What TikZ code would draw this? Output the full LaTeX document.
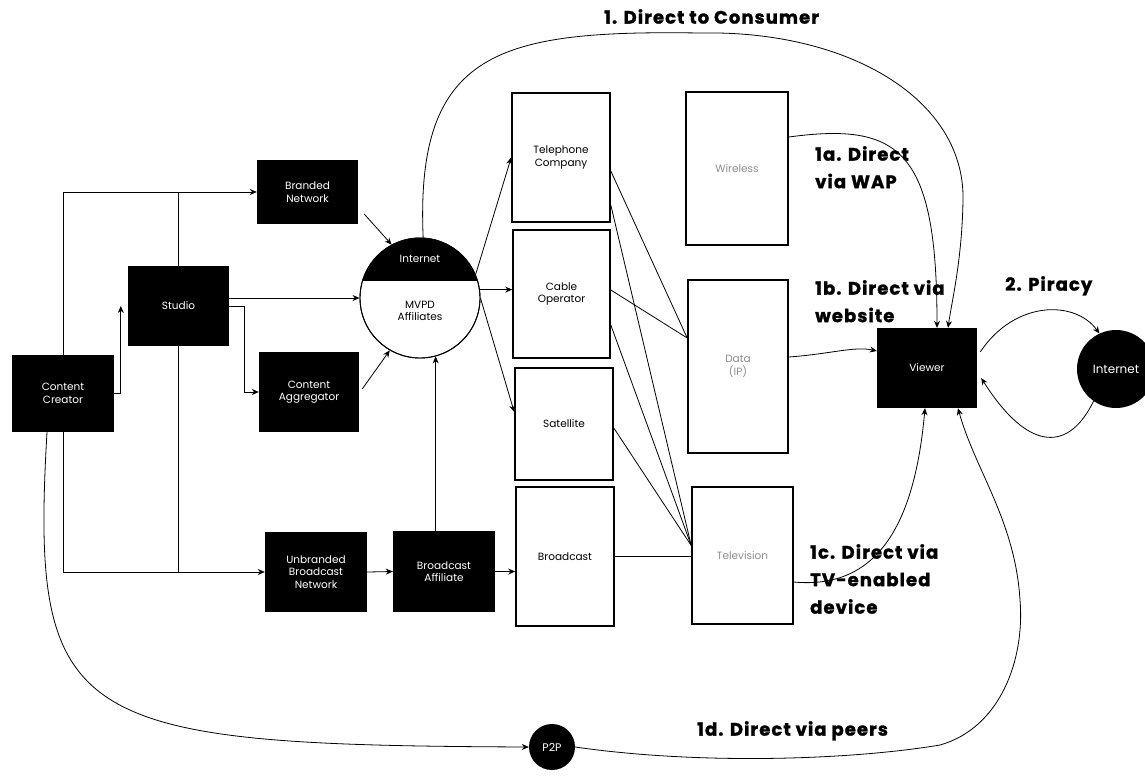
\documentclass[tikz,border=0pt]{standalone}
\usepackage{fontspec}
\setmainfont{Poppins}
\usetikzlibrary{arrows.meta,calc}
\newfontfamily\lblfam{Poppins}[LetterSpace=6,BoldFeatures={FakeBold=1.5}]
\tikzset{
  boxfont/.style={font=\fontsize{10.5}{12.5}\selectfont},
  blk/.style={fill=black, text=white, inner sep=0pt, align=center, boxfont},
  wbox/.style={draw, line width=1.6pt, inner sep=0pt, align=center, boxfont},
  faint/.style={text=black!45},
  conn/.style={line width=0.8pt},
  arr/.style={conn, -{Stealth[length=7pt,width=6pt]}},
  lbl/.style={font=\lblfam\bfseries\fontsize{18}{27.5}\selectfont, align=left, inner sep=0pt, anchor=north west},
}
\begin{document}
\begin{tikzpicture}[x=1pt,y=-1pt]
\useasboundingbox (0,0) rectangle (1145,777);
% black boxes
\node[blk, minimum width=102pt, minimum height=77pt] (cc) at (63,393.5) {Content\\Creator};
\node[blk, minimum width=101pt, minimum height=80pt] (st) at (178.5,306) {Studio};
\node[blk, minimum width=101pt, minimum height=64pt] (bn) at (307.5,192) {Branded\\Network};
\node[blk, minimum width=100pt, minimum height=80pt] (ca) at (309,392) {Content\\Aggregator};
\node[blk, minimum width=102pt, minimum height=80pt] (ubn) at (316,572) {Unbranded\\Broadcast\\Network};
\node[blk, minimum width=102pt, minimum height=81pt] (ba) at (444,571.5) {Broadcast\\Affiliate};
\node[blk, minimum width=100pt, minimum height=80pt] (vw) at (927,368) {Viewer};
% MVPD circle
\node[circle, draw, line width=0.9pt, minimum size=120pt, inner sep=0pt] (mv) at (420,298) {};
\begin{scope}
  \clip (420,298) circle (60pt);
  \fill (350,230) rectangle (490,281);
\end{scope}
\node[circle, draw, line width=0.9pt, minimum size=120pt, inner sep=0pt] at (420,298) {};
\node[text=white, boxfont] at (420,259) {Internet};
\node[align=center, boxfont] at (420,311) {MVPD\\Affiliates};
% white boxes
\node[wbox, minimum width=98pt, minimum height=129pt] (tc) at (561,157.5) {Telephone\\Company};
\node[wbox, minimum width=97pt, minimum height=128pt] (co) at (561.5,294) {Cable\\Operator};
\node[wbox, minimum width=98pt, minimum height=112pt] (sa) at (564,424) {Satellite};
\node[wbox, minimum width=98pt, minimum height=139pt] (br) at (565,556.5) {Broadcast};
\node[wbox, faint, draw=black, minimum width=102pt, minimum height=153pt] (wl) at (737,168.5) {Wireless};
\node[wbox, faint, draw=black, minimum width=100pt, minimum height=173pt] (da) at (738,366.5) {Data\\(IP)};
\node[wbox, faint, draw=black, minimum width=101pt, minimum height=137pt] (ct) at (742.5,555.5) {Television};
% circles
\node[circle, fill=black, text=white, minimum size=78pt, inner sep=0pt, font=\fontsize{12}{14}\selectfont] (in) at (1116,369) {Internet};
\node[circle, fill=black, text=white, minimum size=46pt, inner sep=0pt, font=\fontsize{11}{13}\selectfont] (pp) at (552,747) {P2P};
% left connectors
\draw[arr] (cc.north) |- (bn.west);
\draw[conn] (st.north) -- (st.north |- bn.west);
\draw[conn] (st.south) -- (st.south |- ubn.west);
\draw[arr] (cc.south) |- (ubn.west);
\draw[arr] (cc.east) -| ($(st.west)+(-7,0)$);
\draw[arr] (st.east |- mv.west) -- (mv.west);
\draw[arr] (st.east) -- ++(15,0) |- (ca.west);
\draw[arr] ($(bn.east)+(6,22)$) -- (mv.118);
\draw[arr] ($(ca.east)+(3,-3)$) -- (mv.240);
\draw[arr] (ba.north -| mv.285) -- (mv.285);
\draw[arr] (ubn.east) -- (ba.west);
\draw[arr] (ba.east) -- (ba.east -| br.west);
\draw[arr] (mv.23) -- (tc.west);
\draw[arr] (mv.8) -- (mv.8 -| co.west);
\draw[arr] (mv.east) -- ($(sa.west)+(0,-12)$);
% middle connectors
\coordinate (dain) at ($(da.west)+(0,-28.5)$);
\coordinate (ctin) at ($(ct.west)+(0,-10)$);
\draw[conn] ($(tc.east)+(0,-14.5)$) -- ($(tc.east)+(0,-14.5)$ -| wl.west);
\draw[conn] ($(tc.east)+(0,13.5)$) -- (dain);
\draw[conn] ($(tc.east)+(0,47.5)$) -- (ctin);
\draw[conn] ($(co.east)+(0,-4)$) -- (dain);
\draw[conn] ($(co.east)+(0,31)$) -- (ctin);
\draw[conn] ($(sa.east)+(0,4)$) -- (ctin);
\draw[conn] (br.east) -- (br.east -| ct.west);
% to viewer
\draw[arr] ($(wl.east)+(0,-31.5)$) .. controls (900,122) and (937,150) .. ($(vw.north)+(10,0)$);
\coordinate (top1) at (700,33);
\coordinate (rt1) at (963,200);
\draw[arr] (mv.87) .. controls (415,50) and (500,30) .. (top1)
   .. controls (850,30) and (965,100) .. (rt1)
   .. controls (962,260) and (952,300) .. ($(vw.north)+(21,0)$);
\draw[arr] ($(da.east)+(0,-9.5)$) .. controls (830,354) and (855,346) .. ($(vw.west)+(0,-17)$);
\draw[arr] ($(ct.east)+(0,26.5)$) .. controls (880,590) and (915,520) .. ($(vw.south)+(-2,0)$);
\draw[arr] ($(cc.south)+(-16,0)$) .. controls (30,725) and (70,745) .. (pp.west);
\coordinate (b1) at (940,745);
\coordinate (b2) at (1020,600);
\draw[arr] (pp.east) .. controls (700,765) and (850,760) .. (b1)
   .. controls (1000,728) and (1025,660) .. (b2)
   .. controls (1015,520) and (975,470) .. ($(vw.south)+(31,0)$);
\draw[arr] ($(vw.east)+(3,-16)$) .. controls (1015,300) and (1075,300) .. (in.115);
\draw[arr] (in.235) .. controls (1070,450) and (1030,455) .. ($(vw.east)+(4,10)$);
% labels
\node[lbl] (l1) at (604,9) {1. Direct to Consumer};
\node[lbl] (l1a) at (815,146) {1a. Direct\\via WAP};
\node[lbl] (l1b) at (815,280) {1b. Direct via\\website};
\node[lbl] (l2) at (1005,276) {2. Piracy};
\node[lbl] (l1c) at (810,544) {1c. Direct via\\TV-enabled\\device};
\node[lbl] (l1d) at (697,721) {1d. Direct via peers};
\end{tikzpicture}
\end{document}
